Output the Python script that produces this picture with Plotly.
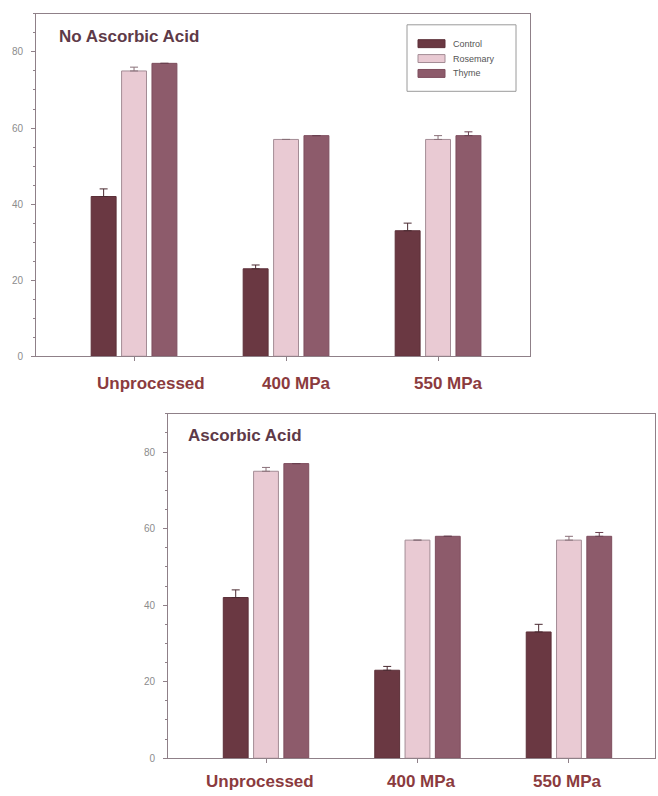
import plotly.graph_objects as go

# Treatment groups and series
categories = ["Unprocessed", "400 MPa", "550 MPa"]
series_names = ["Control", "Rosemary", "Thyme"]

# Panel 1: no ascorbic acid
no_aa_control = [42, 23, 33]
no_aa_rosemary = [75, 57, 57]
no_aa_thyme = [77, 58, 58]
no_aa_control_err = [2, 1, 2]
no_aa_rosemary_err = [1, 0, 1]
no_aa_thyme_err = [0, 0, 1]

# Panel 2: ascorbic acid
aa_control = [42, 23, 33]
aa_rosemary = [75, 57, 57]
aa_thyme = [77, 58, 58]
aa_control_err = [2, 1, 2]
aa_rosemary_err = [1, 0, 1]
aa_thyme_err = [0, 0, 1]

y_ticks = [0, 20, 40, 60, 80]

FONT = "Liberation Sans, Arial, sans-serif"
bar_colors = ["#6a3842", "#e9cad3", "#8d5b6b"]
bar_lines = ["#5c2f38", "#a38c95", "#7e4e5e"]
err_colors = ["#4a2a31", "#8a7079", "#6a4050"]
axis_color = "#8f8088"

fig = go.Figure()

x_pos = list(range(len(categories)))
panels = [
    ("x", "y", [no_aa_control, no_aa_rosemary, no_aa_thyme],
     [no_aa_control_err, no_aa_rosemary_err, no_aa_thyme_err]),
    ("x2", "y2", [aa_control, aa_rosemary, aa_thyme],
     [aa_control_err, aa_rosemary_err, aa_thyme_err]),
]

for xa, ya, vals, errs in panels:
    for i, name in enumerate(series_names):
        fig.add_trace(go.Bar(
            x=x_pos, y=vals[i], name=name, xaxis=xa, yaxis=ya,
            offsetgroup=str(i), showlegend=False,
            marker=dict(color=bar_colors[i],
                        line=dict(color=bar_lines[i], width=1)),
            error_y=dict(type="data", symmetric=False, array=errs[i],
                         arrayminus=[0] * len(errs[i]),
                         color=err_colors[i], thickness=1, width=4),
        ))


def y_axis(domain, anchor):
    return dict(
        domain=domain, anchor=anchor, range=[0, 90],
        tickvals=y_ticks, ticks="outside", ticklen=4, tickcolor=axis_color,
        minor=dict(dtick=5, ticks="outside", ticklen=2, tickcolor=axis_color),
        tickfont=dict(family=FONT, size=10, color="#8c8c8c"),
        showline=True, linecolor=axis_color, linewidth=1, mirror=True,
        showgrid=False, zeroline=False, ticklabelstandoff=6,
    )


def x_axis(domain, anchor, rng):
    return dict(
        domain=domain, anchor=anchor, range=rng,
        tickvals=x_pos, showticklabels=False,
        ticks="outside", ticklen=4, tickcolor=axis_color,
        showline=True, linecolor=axis_color, linewidth=1, mirror=True,
        showgrid=False, zeroline=False,
    )


W, H = 658, 796

fig.update_layout(
    width=W, height=H,
    margin=dict(l=0, r=0, t=0, b=0),
    paper_bgcolor="white", plot_bgcolor="white",
    barmode="group", bargap=0.40, bargroupgap=0.18,
    font=dict(family=FONT),
    xaxis=x_axis([36 / W, 530 / W], "y", [-0.645, 2.605]),
    yaxis=y_axis([1 - 359 / H, 1 - 14 / H], "x"),
    xaxis2=x_axis([168 / W, 655 / W], "y2", [-0.647, 2.568]),
    yaxis2=y_axis([1 - 764 / H, 1 - 417 / H], "x2"),
    showlegend=False,
)

annotations = []
shapes = []

# Legend box in the upper panel, drawn with shapes and text
lx0, ly0, lx1, ly1 = 407, 25, 516, 92
shapes.append(dict(
    type="rect", xref="paper", yref="paper",
    x0=lx0 / W, x1=lx1 / W, y0=1 - ly1 / H, y1=1 - ly0 / H,
    line=dict(color="#9a9a9a", width=1), fillcolor="white", layer="above",
))
for i, name in enumerate(series_names):
    cy = 44 + 15 * i
    shapes.append(dict(
        type="rect", xref="paper", yref="paper",
        x0=418 / W, x1=445 / W, y0=1 - (cy + 4) / H, y1=1 - (cy - 4) / H,
        line=dict(color=bar_lines[i], width=1), fillcolor=bar_colors[i],
        layer="above",
    ))
    annotations.append(dict(
        text=name, xref="paper", yref="paper",
        x=451 / W, y=1 - cy / H, xanchor="left", yanchor="middle",
        showarrow=False, font=dict(family=FONT, size=9, color="#555555"),
    ))

# Panel titles
annotations.append(dict(
    text="<b>No Ascorbic Acid</b>", xref="paper", yref="paper",
    x=57 / W, y=1 - 37 / H, xanchor="left", yanchor="middle",
    showarrow=False, font=dict(family=FONT, size=17, color="#5e3a48"),
))
annotations.append(dict(
    text="<b>Ascorbic Acid</b>", xref="paper", yref="paper",
    x=186 / W, y=1 - 439 / H, xanchor="left", yanchor="middle",
    showarrow=False, font=dict(family=FONT, size=17, color="#5e3a48"),
))

# Category labels under each panel
top_shift = [0.11, 0.07, 0.066]
bottom_shift = [-0.04, 0.026, -0.007]
for i, cat in enumerate(categories):
    annotations.append(dict(
        text=f"<b>{cat}</b>", xref="x", yref="paper",
        x=x_pos[i] + top_shift[i], y=1 - 386 / H,
        xanchor="center", yanchor="middle", showarrow=False,
        font=dict(family=FONT, size=17, color="#8b3b3e"),
    ))
    annotations.append(dict(
        text=f"<b>{cat}</b>", xref="x2", yref="paper",
        x=x_pos[i] + bottom_shift[i], y=1 - 787 / H,
        xanchor="center", yanchor="middle", showarrow=False,
        font=dict(family=FONT, size=17, color="#8b3b3e"),
    ))

fig.update_layout(annotations=annotations, shapes=shapes)

fig.write_html("out.html")
